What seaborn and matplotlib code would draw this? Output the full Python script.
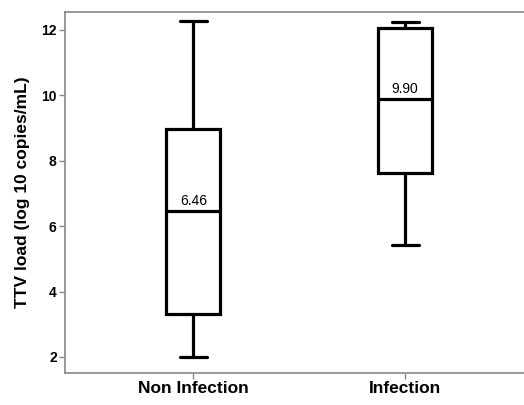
import matplotlib
matplotlib.use("Agg")
import matplotlib.pyplot as plt
import seaborn as sns
import pandas as pd

# Five-number summaries (min, Q1, median, Q3, max)
groups = ["Non Infection", "Infection"]
non_infection = [2.00, 3.30, 6.46, 8.96, 12.27]
infection = [5.42, 7.63, 9.90, 12.05, 12.23]
median_labels = ["6.46", "9.90"]
yticks = [2, 4, 6, 8, 10, 12]

df = pd.DataFrame({
    "group": [groups[0]] * len(non_infection) + [groups[1]] * len(infection),
    "value": non_infection + infection,
})

sns.set_theme(style="white")
plt.rcParams["font.family"] = ["Liberation Sans", "DejaVu Sans"]
plt.rcParams["text.color"] = "black"
plt.rcParams["axes.labelcolor"] = "black"
plt.rcParams["xtick.color"] = "black"
plt.rcParams["ytick.color"] = "black"

fig = plt.figure(figsize=(5.24, 4.05), dpi=100)
ax = fig.add_axes([65 / 524, 1 - 373 / 405, 1 - 65 / 524, (373 - 12) / 405])

sns.boxplot(data=df, x="group", y="value", order=groups, ax=ax,
            whis=(0, 100), width=0.255, color="white", linecolor="black",
            linewidth=2.3, fill=True)

medians = [non_infection[2], infection[2]]
for i, (m, lab) in enumerate(zip(medians, median_labels)):
    ax.annotate(lab, xy=(i, m), xytext=(0, 2), textcoords="offset points",
                ha="center", va="bottom", fontsize=10, color="black")

ax.set_xlim(-0.606, 1.562)
ax.set_ylim(1.51, 12.55)
ax.set_yticks(yticks)
ax.set_yticklabels([str(t) for t in yticks], fontsize=10, fontweight="bold", color="black")
ax.set_xticks(range(len(groups)))
ax.set_xticklabels(groups, fontsize=12.5, fontweight="bold", color="black")
ax.set_xlabel("")
ax.set_ylabel("TTV load (log 10 copies/mL)", fontsize=12.5, fontweight="bold",
              labelpad=8, color="black")

for side in ["left", "top", "bottom"]:
    ax.spines[side].set_color("#888888")
    ax.spines[side].set_linewidth(1.2)
ax.spines["right"].set_visible(False)
ax.tick_params(axis="both", which="both", direction="out", length=4, width=1,
               color="#888888", left=True, bottom=True, pad=2)

fig.savefig("out.png", dpi=100, facecolor="white")
